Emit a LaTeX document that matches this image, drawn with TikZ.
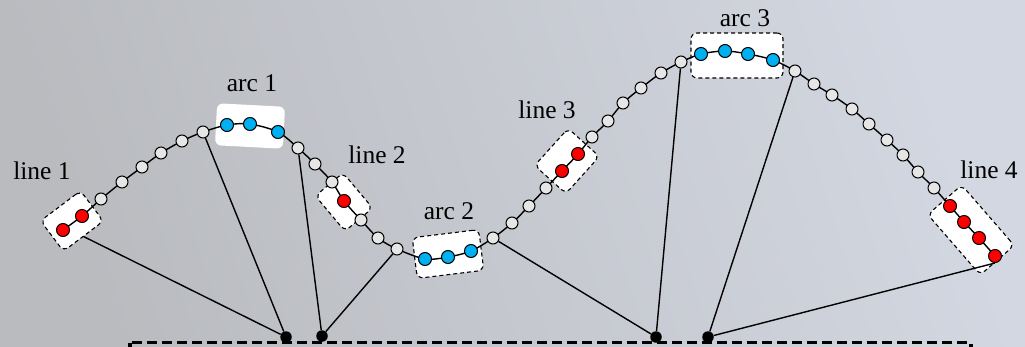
\documentclass[tikz,border=0pt]{standalone}
\usepackage{fontspec}
\setmainfont{Liberation Serif}
\definecolor{ptgray}{RGB}{230,230,230}
\definecolor{ptred}{RGB}{255,0,0}
\definecolor{ptblue}{RGB}{0,176,240}
\definecolor{bgLL}{RGB}{185,187,191}
\definecolor{bgUR}{RGB}{211,215,225}
\begin{document}
\begin{tikzpicture}[x=1pt,y=-1pt,
  pt/.style={circle,draw=black,line width=1pt,inner sep=0pt,minimum size=12pt},
  gpt/.style={pt,fill=ptgray},
  rpt/.style={pt,fill=ptred,minimum size=13pt},
  bpt/.style={pt,fill=ptblue,minimum size=13pt},
  groupbox/.style={draw=black,fill=white,line width=1.1pt,dash pattern=on 4pt off 3pt,
    rounded corners=6pt,inner sep=0pt},
  plainbox/.style={fill=white,rounded corners=6pt,inner sep=0pt},
  anchorpt/.style={circle,fill=black,inner sep=0pt,minimum size=11.5pt},
  link/.style={line width=1.4pt},
  lbl/.style={anchor=base,inner sep=0pt,font=\fontsize{25.5}{30}\selectfont}]

% background
\shade[top color=bgUR,bottom color=bgLL,shading angle=-72]
  (0,0) rectangle (1025,346);
\useasboundingbox (0,0) rectangle (1025,346);
\clip (0,0) rectangle (1025,346);

% sample points along the profile
\foreach \n/\x/\y in {
  1/63/230, 2/82/216, 3/101/199, 4/122/182, 5/142/167, 6/161/153, 7/182/141,
  8/203/132, 9/227/125, 10/250/124, 11/278/132, 12/298/148, 13/315/164,
  14/332/182, 15/344/201, 16/361/220, 17/378/238, 18/397/249, 19/425/259,
  20/448/257, 21/471/251, 22/493/238, 23/512/223, 24/529/206, 25/546/188,
  26/562/171, 27/578/154, 28/592/137, 29/608/121, 30/623/103, 31/641/88,
  32/661/73, 33/681/62, 34/701/54, 35/725/51, 36/748/54, 37/773/60,
  38/795/71, 39/814/84, 40/832/95, 41/852/109, 42/869/124, 43/887/140,
  44/903/155, 45/918/172, 46/934/188, 47/950/206, 48/964/222, 49/979/238,
  50/995/256}
  \coordinate (p\n) at (\x,\y);

% bottom frame and its anchor points
\draw[line width=3.2pt,dash pattern=on 10pt off 5pt] (130,342.5) rectangle (971,400);
\node[anchorpt] (d1) at (286,337) {};
\node[anchorpt] (d2) at (322,336) {};
\node[anchorpt] (d3) at (656,337) {};
\node[anchorpt] (d4) at (708,337) {};

% segment groups
\node[groupbox,minimum width=50pt,minimum height=38pt,rotate=37] (g1) at (72,221) {};
\node[plainbox,minimum width=68pt,minimum height=42pt,rotate=-3] (g2) at (250,126) {};
\node[groupbox,minimum width=46pt,minimum height=36pt,rotate=-50] (g3) at (344,202) {};
\node[groupbox,minimum width=67pt,minimum height=41pt,rotate=7] (g4) at (448,254) {};
\node[groupbox,minimum width=50pt,minimum height=42pt,rotate=48] (g5) at (567,161) {};
\node[groupbox,minimum width=92pt,minimum height=45pt] (g6) at (737,55.5) {};
\node[groupbox,minimum width=80pt,minimum height=45pt,rotate=-49] (g7) at (971,230) {};

% profile curve
\draw[link] plot[smooth,tension=0.5] coordinates {
  (p1) (p2) (p3) (p4) (p5) (p6) (p7) (p8) (p9) (p10) (p11) (p12) (p13)
  (p14) (p15) (p16) (p17) (p18) (p19) (p20) (p21) (p22) (p23) (p24) (p25)
  (p26) (p27) (p28) (p29) (p30) (p31) (p32) (p33) (p34) (p35) (p36) (p37)
  (p38) (p39) (p40) (p41) (p42) (p43) (p44) (p45) (p46) (p47) (p48) (p49) (p50)};

% points
\foreach \i in {3,...,8,12,13,14,16,17,18,22,23,24,25,28,29,...,33,38,39,...,46}
  \node[gpt] (c\i) at (p\i) {};
\foreach \i in {1,2,15,26,27,47,48,49,50}
  \node[rpt] (c\i) at (p\i) {};
\foreach \i in {9,10,11,19,20,21,34,35,36,37}
  \node[bpt] (c\i) at (p\i) {};

% connectors to the frame
\draw[link] (g1.south) -- (d1);
\draw[link] (c8) -- (d1);
\draw[link] (c12) -- (d2);
\draw[link] (c18) -- (d2);
\draw[link] (c22) -- (d3);
\draw[link] (c33) -- (d3);
\draw[link] (c38) -- (d4);
\draw[link] (c50.south) -- (d4);

% labels
\node[lbl] (t1) at (42,179) {line 1};
\node[lbl] (t2) at (252,91) {arc 1};
\node[lbl] (t3) at (377,163) {line 2};
\node[lbl] (t4) at (449,219) {arc 2};
\node[lbl] (t5) at (547,118) {line 3};
\node[lbl] (t6) at (745,26) {arc 3};
\node[lbl] (t7) at (989,178) {line 4};
\end{tikzpicture}
\end{document}
